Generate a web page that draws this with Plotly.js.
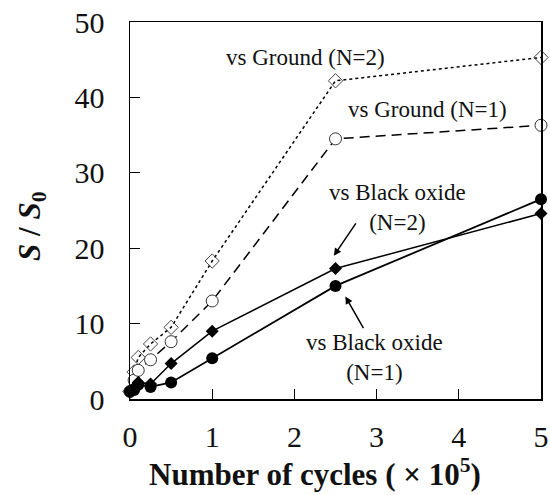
<!DOCTYPE html>
<html><head><meta charset="utf-8">
<script src="https://cdn.plot.ly/plotly-3.0.1.min.js"></script>
<style>body{margin:0;background:#fff}#c{width:550px;height:495px}</style>
</head><body><div id="c"></div>
<script>
const cycles = [0, 0.05, 0.1, 0.25, 0.5, 1, 2.5, 5];
const groundN2 = [1, 3.6, 5.5, 7.3, 9.5, 18.3, 42.2, 45.3];
const groundN1 = [1, 2.5, 3.8, 5.2, 7.6, 13.0, 34.5, 36.3];
const blackN2 = [1, 1.5, 2.2, 2.0, 4.7, 9.0, 17.3, 24.6];
const blackN1 = [1, 1.2, 1.9, 1.6, 2.2, 5.4, 15.0, 26.5];
const xTicks = [0, 1, 2, 3, 4, 5];
const yTicks = [0, 10, 20, 30, 40, 50];

const font = "Liberation Serif, Times New Roman, serif";
const traces = [
  {x: cycles, y: groundN2, mode: 'lines+markers', cliponaxis: false,
   line: {color: '#000', width: 1.5, dash: 'dot'},
   marker: {symbol: 'diamond-open', size: 11, color: '#444', line: {width: 1}}},
  {x: cycles, y: groundN1, mode: 'lines+markers', cliponaxis: false,
   line: {color: '#000', width: 1.5, dash: '10px,6px'},
   marker: {symbol: 'circle', size: 12, color: '#fff', line: {width: 1, color: '#333'}}},
  {x: cycles, y: blackN2, mode: 'lines+markers', cliponaxis: false,
   line: {color: '#000', width: 1.5},
   marker: {symbol: 'diamond', size: 10, color: '#000'}},
  {x: cycles, y: blackN1, mode: 'lines+markers', cliponaxis: false,
   line: {color: '#000', width: 1.8},
   marker: {symbol: 'circle', size: 12, color: '#000'}}
];
const ann = (text, x, y, size, extra) => Object.assign({xref: 'paper', yref: 'paper', x: x, y: y, text: text, showarrow: false,
  xanchor: 'center', yanchor: 'middle',
  font: {family: font, size: size, color: '#111'}, align: 'center'}, extra || {});
const arrow = (x, y, ax, ay) => ({xref: 'x', yref: 'y', x: x, y: y, axref: 'x', ayref: 'y', ax: ax, ay: ay,
  text: '', showarrow: true, arrowhead: 2, arrowsize: 1, arrowwidth: 1.5, arrowcolor: '#000'});
const layout = {
  width: 550, height: 495,
  margin: {l: 130, r: 9, t: 22, b: 96},
  paper_bgcolor: '#fff', plot_bgcolor: '#fff',
  showlegend: false,
  font: {family: font, color: '#111'},
  xaxis: {range: [0, 5], tickvals: xTicks, ticks: 'inside', ticklen: 10, tickcolor: '#000',
    showline: true, linecolor: '#000', linewidth: 1.5, mirror: true, showgrid: false, zeroline: false,
    tickfont: {family: font, size: 30, color: '#111'}, ticklabelstandoff: 10},
  yaxis: {range: [0, 50], tickvals: yTicks, ticks: 'inside', ticklen: 10, tickcolor: '#000',
    showline: true, linecolor: '#000', linewidth: 1.5, mirror: true, showgrid: false, zeroline: false,
    tickfont: {family: font, size: 30, color: '#111'}, ticklabelstandoff: 18},
  annotations: [
    ann('<b>Number of cycles ( × 10<sup>5</sup>)</b>', 0.45, -0.196, 31),
    ann('<b><i>S</i> / <i>S</i><sub>0</sub></b>', -0.24, 0.46, 31, {textangle: -90}),
    ann('vs Ground (N=2)', 0.426, 0.907, 23),
    ann('vs Ground (N=1)', 0.723, 0.767, 23),
    ann('vs Black oxide<br>(N=2)', 0.652, 0.507, 23),
    ann('vs Black oxide<br>(N=1)', 0.596, 0.111, 23),
    arrow(2.48, 19.0, 2.76, 23.5),
    arrow(2.62, 13.6, 2.85, 9.2)
  ]
};
Plotly.newPlot('c', traces, layout, {staticPlot: true});
</script></body></html>
